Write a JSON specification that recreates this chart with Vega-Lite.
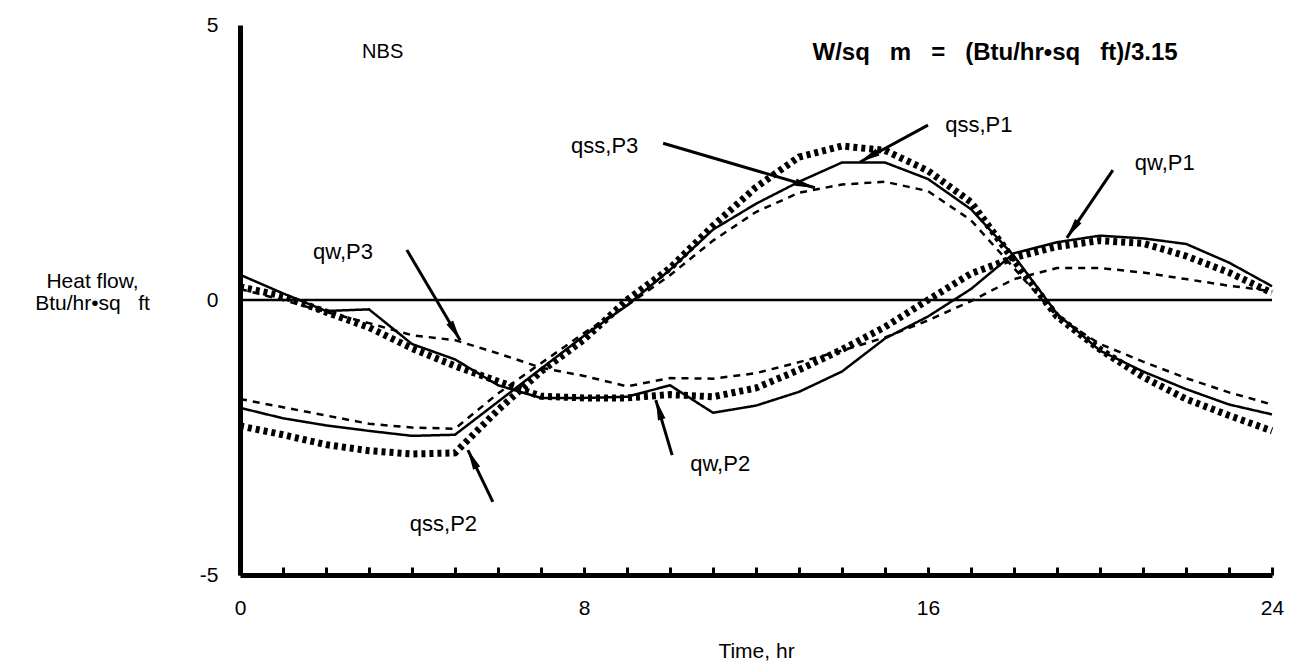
{
  "$schema": "https://vega.github.io/schema/vega-lite/v6.json",
  "width": 1032,
  "height": 550,
  "autosize": {"type": "none"},
  "padding": {"left": 240, "top": 25, "right": 23, "bottom": 95},
  "background": "white",
  "config": {"font": "Liberation Sans", "view": {"stroke": null}},
  "datasets": {
    "curves": [
      {"t":0,"v":-1.96,"s":"qss,P1","p":"P1"},{"t":1,"v":-2.15,"s":"qss,P1","p":"P1"},{"t":2,"v":-2.28,"s":"qss,P1","p":"P1"},{"t":3,"v":-2.38,"s":"qss,P1","p":"P1"},{"t":4,"v":-2.47,"s":"qss,P1","p":"P1"},{"t":5,"v":-2.45,"s":"qss,P1","p":"P1"},{"t":6,"v":-1.85,"s":"qss,P1","p":"P1"},{"t":7,"v":-1.25,"s":"qss,P1","p":"P1"},{"t":8,"v":-0.65,"s":"qss,P1","p":"P1"},{"t":9,"v":-0.1,"s":"qss,P1","p":"P1"},{"t":10,"v":0.55,"s":"qss,P1","p":"P1"},{"t":11,"v":1.28,"s":"qss,P1","p":"P1"},{"t":12,"v":1.75,"s":"qss,P1","p":"P1"},{"t":13,"v":2.15,"s":"qss,P1","p":"P1"},{"t":14,"v":2.5,"s":"qss,P1","p":"P1"},{"t":15,"v":2.5,"s":"qss,P1","p":"P1"},{"t":16,"v":2.2,"s":"qss,P1","p":"P1"},{"t":17,"v":1.65,"s":"qss,P1","p":"P1"},{"t":18,"v":0.8,"s":"qss,P1","p":"P1"},{"t":19,"v":-0.25,"s":"qss,P1","p":"P1"},{"t":20,"v":-0.92,"s":"qss,P1","p":"P1"},{"t":21,"v":-1.3,"s":"qss,P1","p":"P1"},{"t":22,"v":-1.62,"s":"qss,P1","p":"P1"},{"t":23,"v":-1.9,"s":"qss,P1","p":"P1"},{"t":24,"v":-2.08,"s":"qss,P1","p":"P1"},
      {"t":0,"v":-2.29,"s":"qss,P2","p":"P2"},{"t":1,"v":-2.45,"s":"qss,P2","p":"P2"},{"t":2,"v":-2.63,"s":"qss,P2","p":"P2"},{"t":3,"v":-2.74,"s":"qss,P2","p":"P2"},{"t":4,"v":-2.8,"s":"qss,P2","p":"P2"},{"t":5,"v":-2.78,"s":"qss,P2","p":"P2"},{"t":6,"v":-2.0,"s":"qss,P2","p":"P2"},{"t":7,"v":-1.3,"s":"qss,P2","p":"P2"},{"t":8,"v":-0.72,"s":"qss,P2","p":"P2"},{"t":9,"v":0.0,"s":"qss,P2","p":"P2"},{"t":10,"v":0.58,"s":"qss,P2","p":"P2"},{"t":11,"v":1.35,"s":"qss,P2","p":"P2"},{"t":12,"v":2.05,"s":"qss,P2","p":"P2"},{"t":13,"v":2.6,"s":"qss,P2","p":"P2"},{"t":14,"v":2.8,"s":"qss,P2","p":"P2"},{"t":15,"v":2.72,"s":"qss,P2","p":"P2"},{"t":16,"v":2.35,"s":"qss,P2","p":"P2"},{"t":17,"v":1.78,"s":"qss,P2","p":"P2"},{"t":18,"v":0.72,"s":"qss,P2","p":"P2"},{"t":19,"v":-0.3,"s":"qss,P2","p":"P2"},{"t":20,"v":-0.9,"s":"qss,P2","p":"P2"},{"t":21,"v":-1.4,"s":"qss,P2","p":"P2"},{"t":22,"v":-1.8,"s":"qss,P2","p":"P2"},{"t":23,"v":-2.1,"s":"qss,P2","p":"P2"},{"t":24,"v":-2.38,"s":"qss,P2","p":"P2"},
      {"t":0,"v":-1.8,"s":"qss,P3","p":"P3"},{"t":1,"v":-1.95,"s":"qss,P3","p":"P3"},{"t":2,"v":-2.1,"s":"qss,P3","p":"P3"},{"t":3,"v":-2.25,"s":"qss,P3","p":"P3"},{"t":4,"v":-2.32,"s":"qss,P3","p":"P3"},{"t":5,"v":-2.34,"s":"qss,P3","p":"P3"},{"t":6,"v":-1.7,"s":"qss,P3","p":"P3"},{"t":7,"v":-1.15,"s":"qss,P3","p":"P3"},{"t":8,"v":-0.6,"s":"qss,P3","p":"P3"},{"t":9,"v":-0.1,"s":"qss,P3","p":"P3"},{"t":10,"v":0.45,"s":"qss,P3","p":"P3"},{"t":11,"v":1.08,"s":"qss,P3","p":"P3"},{"t":12,"v":1.6,"s":"qss,P3","p":"P3"},{"t":13,"v":1.95,"s":"qss,P3","p":"P3"},{"t":14,"v":2.1,"s":"qss,P3","p":"P3"},{"t":15,"v":2.15,"s":"qss,P3","p":"P3"},{"t":16,"v":1.98,"s":"qss,P3","p":"P3"},{"t":17,"v":1.45,"s":"qss,P3","p":"P3"},{"t":18,"v":0.58,"s":"qss,P3","p":"P3"},{"t":19,"v":-0.3,"s":"qss,P3","p":"P3"},{"t":20,"v":-0.8,"s":"qss,P3","p":"P3"},{"t":21,"v":-1.12,"s":"qss,P3","p":"P3"},{"t":22,"v":-1.42,"s":"qss,P3","p":"P3"},{"t":23,"v":-1.68,"s":"qss,P3","p":"P3"},{"t":24,"v":-1.9,"s":"qss,P3","p":"P3"},
      {"t":0,"v":0.46,"s":"qw,P1","p":"P1"},{"t":1,"v":0.12,"s":"qw,P1","p":"P1"},{"t":2,"v":-0.2,"s":"qw,P1","p":"P1"},{"t":3,"v":-0.17,"s":"qw,P1","p":"P1"},{"t":4,"v":-0.8,"s":"qw,P1","p":"P1"},{"t":5,"v":-1.08,"s":"qw,P1","p":"P1"},{"t":6,"v":-1.55,"s":"qw,P1","p":"P1"},{"t":7,"v":-1.78,"s":"qw,P1","p":"P1"},{"t":8,"v":-1.78,"s":"qw,P1","p":"P1"},{"t":9,"v":-1.76,"s":"qw,P1","p":"P1"},{"t":10,"v":-1.55,"s":"qw,P1","p":"P1"},{"t":11,"v":-2.05,"s":"qw,P1","p":"P1"},{"t":12,"v":-1.92,"s":"qw,P1","p":"P1"},{"t":13,"v":-1.67,"s":"qw,P1","p":"P1"},{"t":14,"v":-1.3,"s":"qw,P1","p":"P1"},{"t":15,"v":-0.7,"s":"qw,P1","p":"P1"},{"t":16,"v":-0.3,"s":"qw,P1","p":"P1"},{"t":17,"v":0.2,"s":"qw,P1","p":"P1"},{"t":18,"v":0.85,"s":"qw,P1","p":"P1"},{"t":19,"v":1.05,"s":"qw,P1","p":"P1"},{"t":20,"v":1.17,"s":"qw,P1","p":"P1"},{"t":21,"v":1.12,"s":"qw,P1","p":"P1"},{"t":22,"v":1.02,"s":"qw,P1","p":"P1"},{"t":23,"v":0.68,"s":"qw,P1","p":"P1"},{"t":24,"v":0.25,"s":"qw,P1","p":"P1"},
      {"t":0,"v":0.24,"s":"qw,P2","p":"P2"},{"t":1,"v":0.07,"s":"qw,P2","p":"P2"},{"t":2,"v":-0.22,"s":"qw,P2","p":"P2"},{"t":3,"v":-0.5,"s":"qw,P2","p":"P2"},{"t":4,"v":-0.88,"s":"qw,P2","p":"P2"},{"t":5,"v":-1.2,"s":"qw,P2","p":"P2"},{"t":6,"v":-1.48,"s":"qw,P2","p":"P2"},{"t":7,"v":-1.75,"s":"qw,P2","p":"P2"},{"t":8,"v":-1.78,"s":"qw,P2","p":"P2"},{"t":9,"v":-1.78,"s":"qw,P2","p":"P2"},{"t":10,"v":-1.72,"s":"qw,P2","p":"P2"},{"t":11,"v":-1.76,"s":"qw,P2","p":"P2"},{"t":12,"v":-1.6,"s":"qw,P2","p":"P2"},{"t":13,"v":-1.27,"s":"qw,P2","p":"P2"},{"t":14,"v":-0.9,"s":"qw,P2","p":"P2"},{"t":15,"v":-0.49,"s":"qw,P2","p":"P2"},{"t":16,"v":0.0,"s":"qw,P2","p":"P2"},{"t":17,"v":0.48,"s":"qw,P2","p":"P2"},{"t":18,"v":0.77,"s":"qw,P2","p":"P2"},{"t":19,"v":0.97,"s":"qw,P2","p":"P2"},{"t":20,"v":1.08,"s":"qw,P2","p":"P2"},{"t":21,"v":1.03,"s":"qw,P2","p":"P2"},{"t":22,"v":0.8,"s":"qw,P2","p":"P2"},{"t":23,"v":0.5,"s":"qw,P2","p":"P2"},{"t":24,"v":0.13,"s":"qw,P2","p":"P2"},
      {"t":0,"v":0.2,"s":"qw,P3","p":"P3"},{"t":1,"v":0.0,"s":"qw,P3","p":"P3"},{"t":2,"v":-0.22,"s":"qw,P3","p":"P3"},{"t":3,"v":-0.42,"s":"qw,P3","p":"P3"},{"t":4,"v":-0.64,"s":"qw,P3","p":"P3"},{"t":5,"v":-0.73,"s":"qw,P3","p":"P3"},{"t":6,"v":-0.97,"s":"qw,P3","p":"P3"},{"t":7,"v":-1.23,"s":"qw,P3","p":"P3"},{"t":8,"v":-1.38,"s":"qw,P3","p":"P3"},{"t":9,"v":-1.57,"s":"qw,P3","p":"P3"},{"t":10,"v":-1.42,"s":"qw,P3","p":"P3"},{"t":11,"v":-1.43,"s":"qw,P3","p":"P3"},{"t":12,"v":-1.33,"s":"qw,P3","p":"P3"},{"t":13,"v":-1.13,"s":"qw,P3","p":"P3"},{"t":14,"v":-0.92,"s":"qw,P3","p":"P3"},{"t":15,"v":-0.68,"s":"qw,P3","p":"P3"},{"t":16,"v":-0.37,"s":"qw,P3","p":"P3"},{"t":17,"v":-0.02,"s":"qw,P3","p":"P3"},{"t":18,"v":0.38,"s":"qw,P3","p":"P3"},{"t":19,"v":0.58,"s":"qw,P3","p":"P3"},{"t":20,"v":0.58,"s":"qw,P3","p":"P3"},{"t":21,"v":0.5,"s":"qw,P3","p":"P3"},{"t":22,"v":0.38,"s":"qw,P3","p":"P3"},{"t":23,"v":0.26,"s":"qw,P3","p":"P3"},{"t":24,"v":0.16,"s":"qw,P3","p":"P3"}
    ],
    "labels": [
      {"t":16.4,"v":3.18,"label":"qss,P1"},
      {"t":7.7,"v":2.8,"label":"qss,P3"},
      {"t":1.7,"v":0.87,"label":"qw,P3"},
      {"t":20.81,"v":2.5,"label":"qw,P1"},
      {"t":10.47,"v":-2.98,"label":"qw,P2"},
      {"t":3.95,"v":-4.07,"label":"qss,P2"}
    ],
    "arrows": [
      {"x1":3.88,"y1":0.91,"x2":5.12,"y2":-0.73,"hx":5.0,"hy":-0.57,"ang":149.5},
      {"x1":9.84,"y1":2.85,"x2":13.37,"y2":2.04,"hx":13.15,"hy":2.09,"ang":106.5},
      {"x1":16.0,"y1":3.18,"x2":14.42,"y2":2.51,"hx":14.62,"hy":2.6,"ang":241.4},
      {"x1":20.3,"y1":2.36,"x2":19.23,"y2":1.13,"hx":19.36,"hy":1.28,"ang":214.1},
      {"x1":10.05,"y1":-2.82,"x2":9.67,"y2":-1.82,"hx":9.74,"hy":-1.99,"ang":343.8},
      {"x1":5.88,"y1":-3.67,"x2":5.3,"y2":-2.73,"hx":5.4,"hy":-2.89,"ang":334.3}
    ]
  },
  "layer": [
    {
      "data": {"values": [{"z": 0}]},
      "mark": {"type": "rule", "color": "black", "strokeWidth": 2.5},
      "encoding": {"y": {"field": "z", "type": "quantitative", "scale": {"domain": [-5, 5]}}}
    },
    {
      "data": {"name": "curves"},
      "mark": {"type": "line", "color": "black", "strokeCap": "butt"},
      "encoding": {
        "x": {"field": "t", "type": "quantitative", "scale": {"domain": [0, 24], "nice": false, "zero": false},
          "axis": {"values": [0,1,2,3,4,5,6,7,8,9,10,11,12,13,14,15,16,17,18,19,20,21,22,23,24],
            "labelExpr": "datum.value % 8 === 0 ? datum.label : ''",
            "grid": false, "domainColor": "black", "domainWidth": 5, "tickColor": "black", "tickSize": -8, "tickWidth": 3,
            "labelFontSize": 21, "labelColor": "black", "labelPadding": 30, "labelFlush": false,
            "title": "Time, hr", "titleFontSize": 21, "titleFontWeight": "normal", "titleColor": "black", "titlePadding": 22}},
        "y": {"field": "v", "type": "quantitative", "scale": {"domain": [-5, 5], "nice": false},
          "axis": {"values": [-5, 0, 5], "grid": false, "domainColor": "black", "domainWidth": 5, "ticks": false,
            "labelExpr": "datum.value < 0 ? '-' + abs(datum.value) : datum.label",
            "labelFontSize": 21, "labelColor": "black", "labelPadding": 22,
            "title": ["Heat flow,", "Btu/hr•sq\u00a0\u00a0\u00a0ft"], "titleAngle": 0, "titleAlign": "center", "titleBaseline": "middle",
            "titleX": -148, "titleY": 256, "titleFontSize": 21, "titleFontWeight": "normal", "titleColor": "black", "titleLineHeight": 22}},
        "detail": {"field": "s"},
        "strokeDash": {"field": "p", "type": "nominal", "scale": {"type": "ordinal", "domain": ["P1", "P2", "P3"], "range": [[1, 0], [4, 4], [7, 6]]}, "legend": null},
        "strokeWidth": {"field": "p", "type": "nominal", "scale": {"type": "ordinal", "domain": ["P1", "P2", "P3"], "range": [2.5, 7, 2.5]}, "legend": null}
      }
    },
    {
      "data": {"name": "arrows"},
      "mark": {"type": "rule", "color": "black", "strokeWidth": 3},
      "encoding": {
        "x": {"field": "x1", "type": "quantitative"},
        "y": {"field": "y1", "type": "quantitative"},
        "x2": {"field": "x2"},
        "y2": {"field": "y2"}
      }
    },
    {
      "data": {"name": "arrows"},
      "mark": {"type": "point", "shape": "M0,-1L0.38,1L-0.38,1Z", "filled": true, "color": "black", "opacity": 1, "size": 420},
      "encoding": {
        "x": {"field": "hx", "type": "quantitative"},
        "y": {"field": "hy", "type": "quantitative"},
        "angle": {"field": "ang", "type": "quantitative", "scale": null}
      }
    },
    {
      "data": {"name": "labels"},
      "mark": {"type": "text", "align": "left", "baseline": "middle", "fontSize": 22, "color": "black"},
      "encoding": {
        "x": {"field": "t", "type": "quantitative"},
        "y": {"field": "v", "type": "quantitative"},
        "text": {"field": "label"}
      }
    },
    {
      "data": {"values": [{"t": 2.84, "v": 4.51, "label": "NBS"}]},
      "mark": {"type": "text", "align": "left", "baseline": "middle", "fontSize": 20, "color": "black", "letterSpacing": -1.5},
      "encoding": {
        "x": {"field": "t", "type": "quantitative"},
        "y": {"field": "v", "type": "quantitative"},
        "text": {"field": "label"}
      }
    },
    {
      "data": {"values": [{"t": 17.56, "v": 4.49, "label": "W/sq\u00a0\u00a0\u00a0m\u00a0\u00a0\u00a0=\u00a0\u00a0\u00a0(Btu/hr•sq\u00a0\u00a0\u00a0ft)/3.15"}]},
      "mark": {"type": "text", "align": "center", "baseline": "middle", "fontSize": 24, "fontWeight": "bold", "color": "black"},
      "encoding": {
        "x": {"field": "t", "type": "quantitative"},
        "y": {"field": "v", "type": "quantitative"},
        "text": {"field": "label"}
      }
    }
  ]
}
